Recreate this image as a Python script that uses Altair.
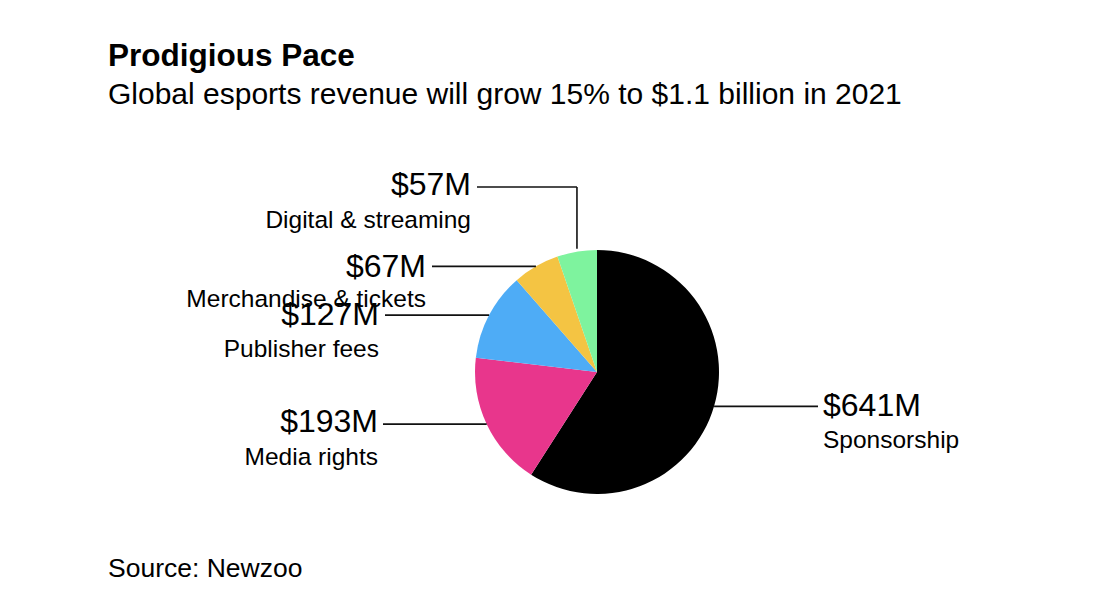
import altair as alt
import pandas as pd
import numpy as np

# ---- data ----
categories = ["Sponsorship", "Media rights", "Publisher fees",
              "Merchandise & tickets", "Digital & streaming"]
values = [641, 193, 127, 67, 57]
value_labels = ["$641M", "$193M", "$127M", "$67M", "$57M"]

title_text = "Prodigious Pace"
subtitle_text = "Global esports revenue will grow 15% to $1.1 billion in 2021"
source_text = "Source: Newzoo"

# ---- styles / layout ----
colors = ["#000000", "#e8368c", "#4eacf6", "#f4c443", "#7ef39e"]
W, H = 1099, 615
CX, CY, R = 597, 372, 122
FONT = "Liberation Sans"

label_x = [823, 378, 379, 426, 471]
label_align = ["left", "right", "right", "right", "right"]
value_base = [416, 432, 325, 277, 195]
name_base = [448, 465, 357, 307, 228]
line_end_x = [818, 383, 385, 432, 477]
elbow_y = [None, None, None, None, 187]

# ---- derived tables ----
df = pd.DataFrame({"category": categories, "value": values,
                   "idx": list(range(len(values)))})
tot = float(sum(values))
cum = np.cumsum(values)
mid = (cum - np.array(values) / 2.0) / tot * 2 * np.pi
ax = CX + R * np.sin(mid)
ay = CY - R * np.cos(mid)

segs = []
for i in range(len(values)):
    if elbow_y[i] is None:
        segs.append({"x": ax[i], "y": ay[i], "x2": line_end_x[i], "y2": ay[i]})
    else:
        segs.append({"x": ax[i], "y": ay[i] - 3, "x2": ax[i], "y2": elbow_y[i]})
        segs.append({"x": ax[i], "y": elbow_y[i], "x2": line_end_x[i], "y2": elbow_y[i]})
seg_df = pd.DataFrame(segs)

lab = pd.DataFrame({"x": label_x, "align": label_align,
                    "vy": value_base, "ny": name_base,
                    "vlab": value_labels, "name": categories})

xs = alt.Scale(domain=[0, W], range=[0, W])
ys = alt.Scale(domain=[0, H], range=[0, H])

pie = alt.Chart(df).mark_arc(outerRadius=R, strokeWidth=0).encode(
    theta=alt.Theta("value:Q", stack=True),
    color=alt.Color("category:N", scale=alt.Scale(domain=categories, range=colors), legend=None),
    order=alt.Order("idx:Q"),
    x=alt.value(CX), y=alt.value(CY),
)

lines = alt.Chart(seg_df).mark_rule(color="#111111", strokeWidth=1.6).encode(
    x=alt.X("x:Q", scale=xs, axis=None), y=alt.Y("y:Q", scale=ys, axis=None),
    x2="x2:Q", y2="y2:Q",
)

layers = [pie, lines]
for al in ["left", "right"]:
    sub = lab[lab["align"] == al]
    layers.append(alt.Chart(sub).mark_text(align=al, baseline="alphabetic", font=FONT,
                                           fontSize=32, color="#000000").encode(
        x=alt.X("x:Q", scale=xs, axis=None), y=alt.Y("vy:Q", scale=ys, axis=None), text="vlab:N"))
    layers.append(alt.Chart(sub).mark_text(align=al, baseline="alphabetic", font=FONT,
                                           fontSize=24.5, color="#000000").encode(
        x=alt.X("x:Q", scale=xs, axis=None), y=alt.Y("ny:Q", scale=ys, axis=None), text="name:N"))

head = pd.DataFrame({"x": [108, 108, 108], "y": [66, 104, 577],
                     "t": [title_text, subtitle_text, source_text],
                     "kind": ["title", "subtitle", "source"]})
for kind, size, weight in [("title", 31.5, "bold"), ("subtitle", 30, "normal"), ("source", 26.5, "normal")]:
    layers.append(alt.Chart(head[head["kind"] == kind]).mark_text(
        align="left", baseline="alphabetic", font=FONT, fontSize=size, fontWeight=weight,
        color="#000000").encode(
        x=alt.X("x:Q", scale=xs, axis=None), y=alt.Y("y:Q", scale=ys, axis=None), text="t:N"))

chart = alt.layer(*layers).properties(
    width=W, height=H, padding=0, autosize=alt.AutoSizeParams(type="none"),
    background="white",
).configure_view(stroke=None)

chart.save("out.html", embed_options={"renderer": "svg", "actions": False})
